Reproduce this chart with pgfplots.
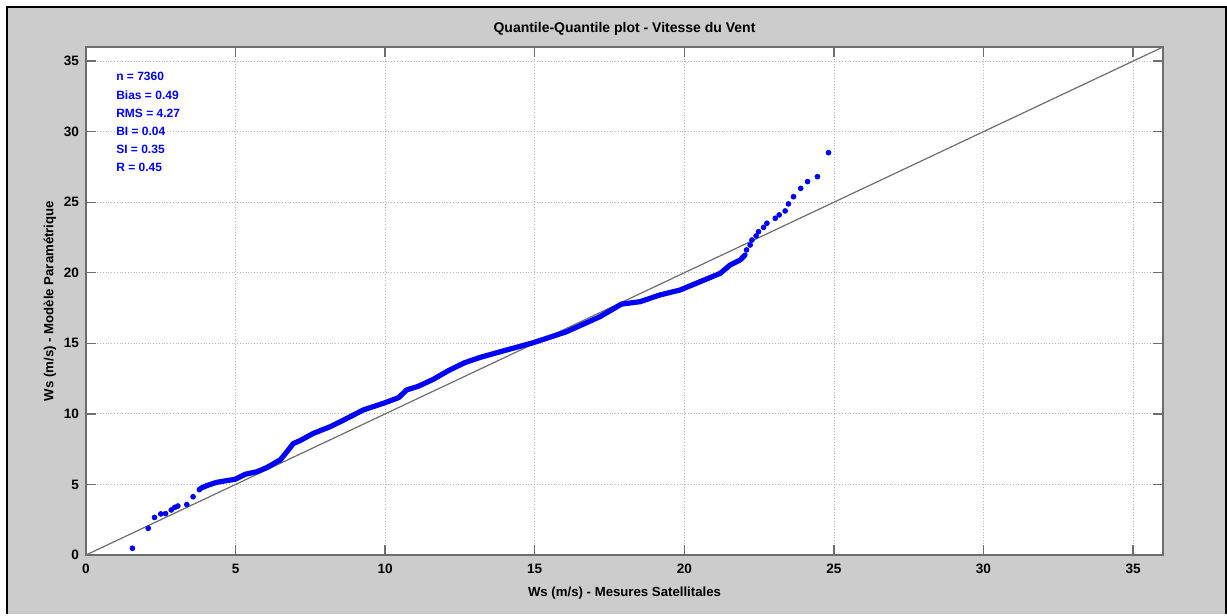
\documentclass[border=0pt]{standalone}
\usepackage{pgfplots}
\pgfplotsset{compat=1.18}
\usepackage{fontspec}
\setmainfont{Liberation Sans}
\definecolor{figbg}{RGB}{204,204,204}
\definecolor{axgray}{RGB}{110,110,110}
\definecolor{mblue}{RGB}{0,0,255}

\begin{document}
\begin{tikzpicture}
% figure window
\fill[white] (0,0) rectangle (613.5pt,307pt);
\fill[figbg] (3pt,0) rectangle (613.5pt,304pt);
\draw[black, line width=1.2pt] (3.6pt,0) -- (3.6pt,303.4pt) -- (612.9pt,303.4pt) -- (612.9pt,0);
\begin{axis}[
  at={(43pt,29.5pt)}, anchor=south west,
  scale only axis, width=538.5pt, height=254pt,
  xmin=0, xmax=36, ymin=0, ymax=36,
  xtick={0,5,...,35}, ytick={0,5,...,35},
  tick align=inside, major tick length=5pt,
  axis background/.style={fill=white},
  axis line style={axgray, line width=0.7pt},
  tick style={axgray, line width=0.7pt},
  grid=major,
  major grid style={densely dotted, gray!55, line width=0.4pt},
  /pgf/number format/assume math mode=true,
  ticklabel style={font=\fontsize{6.8}{7}\selectfont\bfseries},
  xticklabel style={yshift=-1pt},
  xlabel={Ws (m/s) - Mesures Satellitales},
  ylabel={Ws (m/s) - Modèle Paramétrique},
  xlabel style={at={(axis description cs:0.5,0)}, anchor=center, yshift=-19pt},
  ylabel style={at={(axis description cs:0,0.5)}, anchor=center, yshift=18pt},
  label style={font=\fontsize{6.6}{8}\selectfont\bfseries},
  title={Quantile-Quantile plot - Vitesse du Vent},
  title style={at={(axis description cs:0.5,1)}, anchor=center, yshift=3pt,
               font=\fontsize{7}{8}\selectfont\bfseries},
]
% reference line y = x
\addplot[axgray, line width=0.6pt] coordinates {(0,0) (36,36)};

% dense part of the quantile curve
\addplot[mblue, line width=2.6pt, line join=round, line cap=round] coordinates {
(3.83,4.72) (4.03,4.91) (4.37,5.15) (4.70,5.27) (4.98,5.36) (5.32,5.72)
(5.71,5.90) (6.04,6.19) (6.38,6.61) (6.49,6.73) (6.71,7.30) (6.93,7.90)
(7.15,8.10) (7.60,8.62) (8.16,9.09) (8.60,9.55) (9.27,10.28) (9.94,10.75)
(10.45,11.15) (10.72,11.70) (11.10,11.95) (11.61,12.45) (12.10,13.05)
(12.65,13.62) (13.17,14.00) (13.84,14.40) (14.96,15.05) (16.07,15.83)
(17.18,16.89) (17.90,17.78) (18.52,17.95) (19.19,18.43) (19.86,18.78)
(20.53,19.37) (21.20,19.96) (21.53,20.55) (21.87,20.91) (22.03,21.26)
};

% sparse quantiles at both ends
\addplot[only marks, mark=*, mark size=1.2pt, mblue, mark options={draw=mblue, fill=mblue}] coordinates {
(1.55,0.48) (2.08,1.89) (2.29,2.66) (2.50,2.91) (2.66,2.93) (2.85,3.19)
(2.97,3.38) (3.07,3.47) (3.37,3.57) (3.58,4.13) (3.79,4.63)
(22.08,21.62) (22.20,21.97) (22.26,22.32) (22.40,22.61) (22.48,22.91)
(22.65,23.22) (22.76,23.51) (23.04,23.86) (23.17,24.10) (23.37,24.38)
(23.48,24.88) (23.65,25.39) (23.89,25.98) (24.12,26.46) (24.45,26.81)
(24.82,28.51)
};

% statistics
\begin{scope}[every node/.style={anchor=west, text=mblue, inner sep=0pt,
    font=\fontsize{6}{7}\selectfont\bfseries}]
\node at (axis cs:1.0,33.9) {n = 7360};
\node at (axis cs:1.0,32.6) {Bias = 0.49};
\node at (axis cs:1.0,31.3) {RMS = 4.27};
\node at (axis cs:1.0,30.0) {BI = 0.04};
\node at (axis cs:1.0,28.75) {SI = 0.35};
\node at (axis cs:1.0,27.45) {R = 0.45};
\end{scope}
\end{axis}
\end{tikzpicture}
\end{document}
